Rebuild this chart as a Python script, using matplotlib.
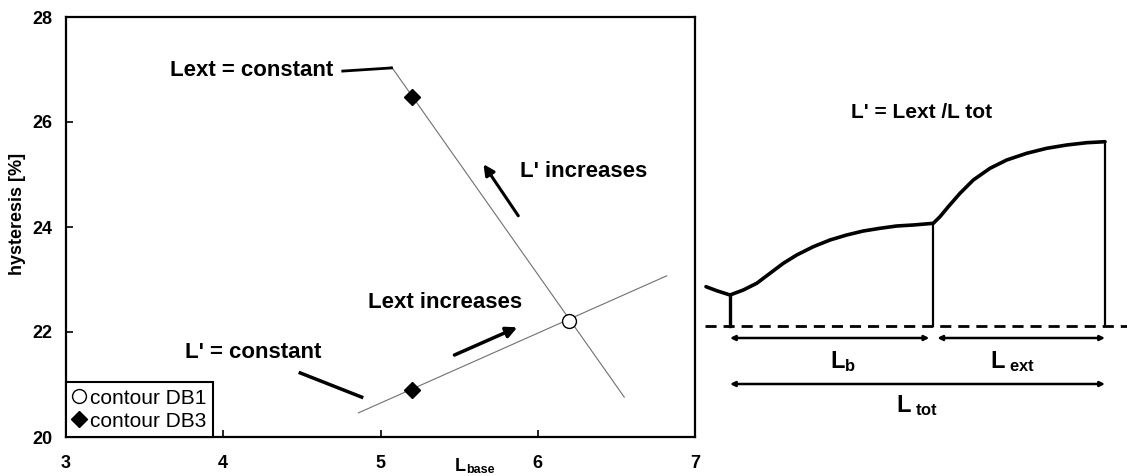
import numpy as np
import matplotlib
matplotlib.use('Agg')
import matplotlib.pyplot as plt

plt.rcParams['font.family'] = ['Liberation Sans', 'DejaVu Sans']
plt.rcParams['mathtext.fontset'] = 'custom'
plt.rcParams['mathtext.rm'] = 'Liberation Sans'
plt.rcParams['mathtext.bf'] = 'Liberation Sans:bold'
plt.rcParams['mathtext.it'] = 'Liberation Sans:italic'

# --- left chart data ---
db1_x = [6.20]
db1_y = [22.21]
db3_x = [5.20, 5.20]
db3_y = [20.90, 26.48]

# L' = constant line, Lext = constant line (end points)
lconst_x = [4.86, 6.82]
lconst_y = [20.46, 23.07]
lext_x = [5.07, 6.55]
lext_y = [27.05, 20.76]

x_ticks = [3, 4, 5, 6, 7]
y_ticks = [20, 22, 24, 26, 28]

# --- right schematic (local units, baseline at y=0) ---
curve_x = [6, 16.7, 30, 43.3, 56.7, 70, 83.3, 96.7, 113.3, 130, 146.7, 163.3,
           180, 196.7, 213.3, 233.3, 240, 248.3, 260, 273.3, 290, 306.7,
           326.7, 346.7, 366.7, 386.7, 405]
curve_y = [39.3, 35.3, 31, 36, 42.7, 52.7, 62.7, 71, 79.3, 86, 91, 95,
           97.7, 100, 101, 102.7, 109.3, 119.3, 132.7, 146, 157.7, 166,
           172.7, 177.7, 181, 183.3, 184.3]
x_start, x_mid, x_end = 30, 233.3, 405


def main():
    fig = plt.figure(figsize=(11.27, 4.76), dpi=100)

    # ---------- left plot ----------
    ax = fig.add_axes([66 / 1127, 39 / 476, 629 / 1127, 420 / 476])
    ax.plot(lconst_x, lconst_y, color='#707070', lw=0.8, zorder=1)
    ax.plot(lext_x, lext_y, color='#707070', lw=0.8, zorder=1)
    ax.plot(db1_x, db1_y, 'o', mfc='white', mec='black', mew=1.0, ms=10,
            label='contour DB1', zorder=3)
    ax.plot(db3_x, db3_y, 'D', color='black', ms=8, label='contour DB3', zorder=3)

    ax.set_xlim(3, 7)
    ax.set_ylim(20, 28)
    ax.set_xticks(x_ticks)
    ax.set_yticks(y_ticks)
    ax.tick_params(direction='in', length=5, width=1.2)
    ax.tick_params(axis='x', pad=13)
    ax.tick_params(axis='y', pad=10)
    for lab in ax.get_xticklabels() + ax.get_yticklabels():
        lab.set_fontsize(13)
        lab.set_fontweight('bold')
    for sp in ax.spines.values():
        sp.set_linewidth(1.6)

    ax.set_ylabel('hysteresis [%]', fontsize=13, fontweight='bold')
    ax.yaxis.set_label_coords(-0.063, 0.53)
    ax.text(5.545, 19.43, r'$\mathbf{L}$', fontsize=13, ha='right', va='center',
            clip_on=False)
    ax.text(5.545, 19.38, 'base', fontsize=9, fontweight='bold', ha='left',
            va='center', clip_on=False)

    bold = dict(fontsize=16, fontweight='bold')
    ax.text(3.66, 26.99, 'Lext = constant', ha='left', va='center', **bold)
    ax.plot([4.76, 5.07], [26.97, 27.03], color='black', lw=2)
    ax.text(5.89, 25.05, "L' increases", ha='left', va='center', **bold)
    ax.annotate('', xy=(5.645, 25.24), xytext=(5.886, 24.17),
                arrowprops=dict(arrowstyle='-|>', lw=2.2, color='black',
                                mutation_scale=16))
    ax.text(4.92, 22.57, 'Lext increases', ha='left', va='center', **bold)
    ax.annotate('', xy=(5.886, 22.11), xytext=(5.454, 21.54),
                arrowprops=dict(arrowstyle='-|>', lw=2.5, color='black',
                                mutation_scale=16))
    ax.text(3.757, 21.6, "L' = constant", ha='left', va='center', **bold)
    ax.plot([4.49, 4.88], [21.22, 20.76], color='black', lw=2.5)

    leg = ax.legend(loc='lower left', fontsize=15, frameon=True, fancybox=False,
                    edgecolor='black', framealpha=1, borderaxespad=0,
                    handlelength=0.6, handletextpad=0.25, borderpad=0.3,
                    labelspacing=0.2, numpoints=1)
    leg.get_frame().set_linewidth(1.5)

    # ---------- right schematic ----------
    ax2 = fig.add_axes([700 / 1127, 56 / 476, 427 / 1127, 320 / 476])
    ax2.set_xlim(0, 427)
    ax2.set_ylim(-94, 226)
    ax2.axis('off')

    ax2.plot(curve_x, curve_y, color='black', lw=2.6, solid_capstyle='round')
    ax2.plot([5, 427], [0, 0], color='black', lw=2, ls=(0, (4, 2.5)))
    ax2.plot([x_start, x_start], [0, curve_y[2]], color='black', lw=2.4)
    ax2.plot([x_mid, x_mid], [0, curve_y[15]], color='black', lw=1.6)
    ax2.plot([x_end, x_end], [0, curve_y[-1]], color='black', lw=1.6)

    arr = dict(arrowstyle='<|-|>', lw=1.8, color='black', mutation_scale=7,
               shrinkA=0, shrinkB=0)
    ax2.annotate('', xy=(x_start, -12), xytext=(x_mid - 4, -12), arrowprops=arr)
    ax2.annotate('', xy=(x_mid + 4, -12), xytext=(x_end, -12), arrowprops=arr)
    ax2.annotate('', xy=(x_start, -58), xytext=(x_end, -58), arrowprops=arr)

    ax2.text(143, -36, r'$\mathbf{L}_{\mathbf{b}}$', fontsize=17, ha='center', va='center')
    ax2.text(312, -36, r'$\mathbf{L}_{\ \mathbf{ext}}$', fontsize=17, ha='center', va='center')
    ax2.text(217, -80, r'$\mathbf{L}_{\ \mathbf{tot}}$', fontsize=17, ha='center', va='center')
    ax2.text(222, 213, "L' = Lext /L tot", fontsize=15, fontweight='bold',
             ha='center', va='center')

    fig.savefig('out.png', dpi=100)


if __name__ == "__main__":
    main()
